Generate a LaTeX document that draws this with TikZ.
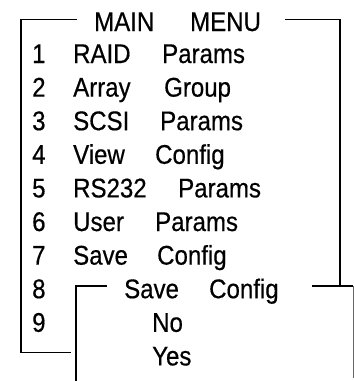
\documentclass[tikz,border=0pt]{standalone}
\usepackage{fontspec}
\setmainfont{Liberation Sans}[FakeStretch=0.89, FakeBold=0.5]
\usetikzlibrary{positioning}

\begin{document}
\begin{tikzpicture}[
            x=1pt, y=-1pt,
            item/.style={anchor=base west, inner sep=0pt, font=\fontsize{27}{30}\selectfont},
            frame/.style={black, line width=1.6pt},
            edge/.style={black!60, line width=0.9pt}
        ]
            \useasboundingbox (0,0) rectangle (354,381);

            % Main menu
            \node[item] (mainA) at (94,31) {MAIN};
            \node[item] (mainB) at (190,31) {MENU};
            \node[item] (n1) at (32,63) {1};
            \node[item] (raid) at (73,63) {RAID};
            \node[item] (raidP) at (162,63) {Params};
            \node[item] (n2) at (32,96.6) {2};
            \node[item] (array) at (73,96.6) {Array};
            \node[item] (arrayG) at (164,96.6) {Group};
            \node[item] (n3) at (32,130.2) {3};
            \node[item] (scsi) at (73,130.2) {SCSI};
            \node[item] (scsiP) at (160,130.2) {Params};
            \node[item] (n4) at (32,163.8) {4};
            \node[item] (view) at (73,163.8) {View};
            \node[item] (viewC) at (155,163.8) {Config};
            \node[item] (n5) at (32,197.4) {5};
            \node[item] (rs) at (73,197.4) {RS232};
            \node[item] (rsP) at (178,197.4) {Params};
            \node[item] (n6) at (32,231) {6};
            \node[item] (user) at (73,231) {User};
            \node[item] (userP) at (155,231) {Params};
            \node[item] (n7) at (32,264.6) {7};
            \node[item] (save) at (73,264.6) {Save};
            \node[item] (saveC) at (157,264.6) {Config};
            \node[item] (n8) at (32,298.2) {8};
            \node[item] (n9) at (32,331.8) {9};

            % Save Config menu
            \node[item] (subA) at (124,298.2) {Save};
            \node[item] (subB) at (209,298.2) {Config};
            \node[item] (no) at (152,331.8) {No};
            \node[item] (yes) at (152,365.4) {Yes};

            % Frame corners
            \coordinate (mainL) at (77,19.5);
            \coordinate (mainR) at (285,19.5);
            \coordinate (otl) at (21,19.5);
            \coordinate (otr) at (340,19.5);
            \coordinate (obl) at (21,352.5);
            \coordinate (obe) at (71,352.5);
            \coordinate (ore) at (340,287);
            \coordinate (subL) at (107,286);
            \coordinate (subR) at (312,286);
            \coordinate (stl) at (76,286);
            \coordinate (sbl) at (76,381);
            \coordinate (str) at (353,286);
            \coordinate (sbr) at (353,378);

            % Frames
            \draw[frame] (mainL) -- (otl) -- (obl) -- (obe);
            \draw[frame] (mainR) -- (otr) -- (ore);
            \draw[frame] (subL) -- (stl) -- (sbl);
            \draw[frame] (subR) -- (str);
            \draw[edge] (str) -- (sbr);
        \end{tikzpicture}
\end{document}
